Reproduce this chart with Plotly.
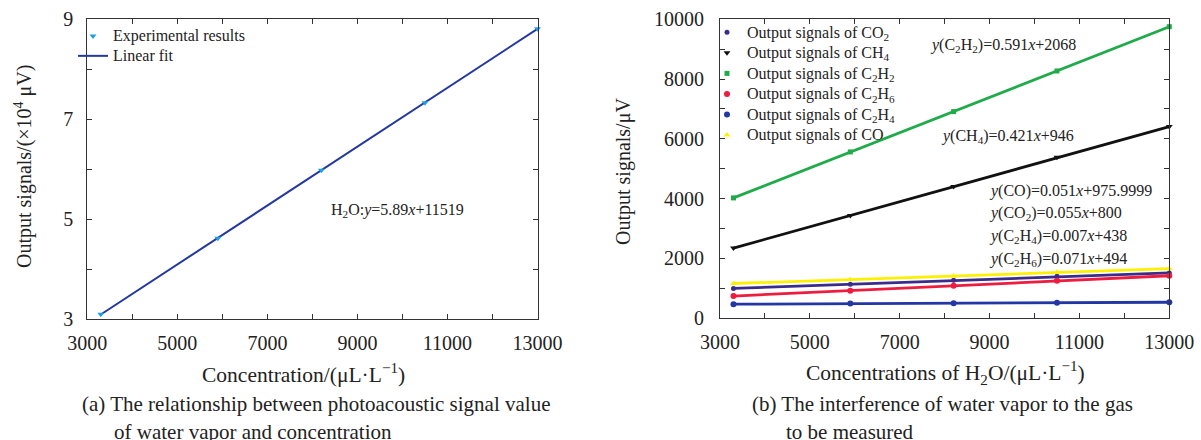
import plotly.graph_objects as go

# ---------------- data ----------------
conc = [3300, 5900, 8200, 10500, 13000]

# panel (a): water vapor signal, x10^4 uV
h2o_signal = [3.10, 4.62, 5.98, 7.33, 8.81]
h2o_fit = [3.096, 4.627, 5.982, 7.336, 8.809]

# panel (b): interference signals, uV
co2 = [990, 1130, 1265, 1395, 1510]
ch4 = [2340, 3430, 4400, 5380, 6410]
c2h2 = [4020, 5560, 6910, 8270, 9752]
c2h6 = [735, 912, 1076, 1243, 1415]
c2h4 = [462, 485, 497, 512, 528]
co = [1155, 1285, 1405, 1530, 1650]

x_ticks = [3000, 4000, 5000, 6000, 7000, 8000, 9000, 10000, 11000, 12000, 13000]
x_ticktext = ["3000", "", "5000", "", "7000", "", "9000", "", "11000", "", "13000"]
ya_ticks = [3, 4, 5, 6, 7, 8, 9]
ya_ticktext = ["3", "", "5", "", "7", "", "9"]
yb_ticks = [0, 1000, 2000, 3000, 4000, 5000, 6000, 7000, 8000, 9000, 10000]
yb_ticktext = ["0", "", "2000", "", "4000", "", "6000", "", "8000", "", "10000"]

FONT = "Liberation Serif"
W, H = 1201, 440


def lg(text, size=16):
    return '<span style="font-size:%dpx">%s</span>' % (size, text)


fig = go.Figure()

# ---- panel (a)
fig.add_trace(go.Scatter(x=conc, y=h2o_fit, mode="lines", name=lg("Linear fit"),
                         line=dict(color="#2438a0", width=2), xaxis="x", yaxis="y",
                         legend="legend", legendrank=2))
fig.add_trace(go.Scatter(x=conc, y=h2o_signal, mode="markers",
                         name=lg("Experimental results"),
                         marker=dict(color="#1a9ee6", size=6, symbol="triangle-down"),
                         xaxis="x", yaxis="y", legend="legend", legendrank=1,
                         cliponaxis=False))

# ---- panel (b)
series = [
    ("Output signals of CO<sub>2</sub>", co2, "#3a2c8c", "circle", 5),
    ("Output signals of CH<sub>4</sub>", ch4, "#111111", "triangle-down", 6),
    ("Output signals of C<sub>2</sub>H<sub>2</sub>", c2h2, "#1fab4a", "square", 5),
    ("Output signals of C<sub>2</sub>H<sub>6</sub>", c2h6, "#ee1c3e", "circle", 6),
    ("Output signals of C<sub>2</sub>H<sub>4</sub>", c2h4, "#2236a4", "circle", 6),
    ("Output signals of CO", co, "#fff000", "triangle-up", 6),
]
for i, (name, vals, col, sym, sz) in enumerate(series):
    fig.add_trace(go.Scatter(x=conc, y=vals, mode="lines", showlegend=False,
                             line=dict(color=col, width=2.8),
                             xaxis="x2", yaxis="y2", hoverinfo="skip"))
    fig.add_trace(go.Scatter(x=conc, y=vals, mode="markers", name=lg(name),
                             marker=dict(color=col, size=sz, symbol=sym),
                             xaxis="x2", yaxis="y2", legend="legend2", legendrank=i + 1,
                             cliponaxis=False))

axis_common = dict(showline=True, linecolor="#333", linewidth=1, mirror="allticks",
                   ticks="inside", ticklen=5, tickcolor="#333", showgrid=False,
                   zeroline=False, automargin=False,
                   tickfont=dict(family=FONT, size=20, color="#222"))


def px(xp):
    return xp / W


def py(yp):
    return 1 - yp / H


fig.update_layout(
    width=W, height=H, margin=dict(l=0, r=0, t=0, b=0, autoexpand=False),
    paper_bgcolor="white", plot_bgcolor="white",
    font=dict(family=FONT, color="#222"),
    xaxis=dict(domain=[px(87.3), px(537.5)], range=[3000, 13000], tickvals=x_ticks,
               ticktext=x_ticktext, anchor="y", ticklabelstandoff=6, **axis_common),
    yaxis=dict(domain=[py(319.3), py(19.3)], range=[3, 9], tickvals=ya_ticks,
               ticktext=ya_ticktext, anchor="x", ticklabelstandoff=9, **axis_common),
    xaxis2=dict(domain=[px(720), px(1169.3)], range=[3000, 13000], tickvals=x_ticks,
                ticktext=x_ticktext, anchor="y2", ticklabelstandoff=6, **axis_common),
    yaxis2=dict(domain=[py(318), py(19.3)], range=[0, 10000], tickvals=yb_ticks,
                ticktext=yb_ticktext, anchor="x2", ticklabelstandoff=11, **axis_common),
    legend=dict(x=px(73), y=py(21), xanchor="left", yanchor="top",
                bgcolor="rgba(0,0,0,0)", font=dict(family=FONT, size=13, color="#222"),
                itemwidth=30, tracegroupgap=0),
    legend2=dict(x=px(707), y=py(17), xanchor="left", yanchor="top",
                 bgcolor="rgba(0,0,0,0)", font=dict(family=FONT, size=13.5, color="#222"),
                 itemwidth=30, tracegroupgap=0),
    showlegend=True,
)

ann = []


def add(text, x, y, size=16, xanchor="left", angle=0):
    ann.append(dict(text=text, x=x, y=y, xref="paper", yref="paper", showarrow=False,
                    xanchor=xanchor, yanchor="middle", textangle=angle,
                    font=dict(family=FONT, size=size, color="#222")))


# panel (a) texts
add("H<sub>2</sub>O:<i>y</i>=5.89<i>x</i>+11519", px(329), py(210), size=16)
add("Output signals/(×10<sup>4</sup> μV)", px(23), py(167), size=20, xanchor="center", angle=-90)
add("Concentration/(μL·L<sup>−1</sup>)", px(303), py(373), size=21.5, xanchor="center")
add("(a) The relationship between photoacoustic signal value", px(80), py(404), size=21)
add("of water vapor and concentration", px(112), py(432), size=21)

# panel (b) texts
add("<i>y</i>(C<sub>2</sub>H<sub>2</sub>)=0.591<i>x</i>+2068", px(928), py(45))
add("<i>y</i>(CH<sub>4</sub>)=0.421<i>x</i>+946", px(939), py(136))
add("<i>y</i>(CO)=0.051<i>x</i>+975.9999", px(987), py(191))
add("<i>y</i>(CO<sub>2</sub>)=0.055<i>x</i>+800", px(987), py(213))
add("<i>y</i>(C<sub>2</sub>H<sub>4</sub>)=0.007<i>x</i>+438", px(987), py(236))
add("<i>y</i>(C<sub>2</sub>H<sub>6</sub>)=0.071<i>x</i>+494", px(987), py(259))
add("Output signals/μV", px(624), py(172), size=20, xanchor="center", angle=-90)
add("Concentrations of H<sub>2</sub>O/(μL·L<sup>−1</sup>)", px(945), py(373), size=21.5, xanchor="center")
add("(b) The interference of water vapor to the gas", px(750), py(404), size=21)
add("to be measured", px(784), py(432), size=21)

fig.update_layout(annotations=ann)
fig.write_html("out.html")
